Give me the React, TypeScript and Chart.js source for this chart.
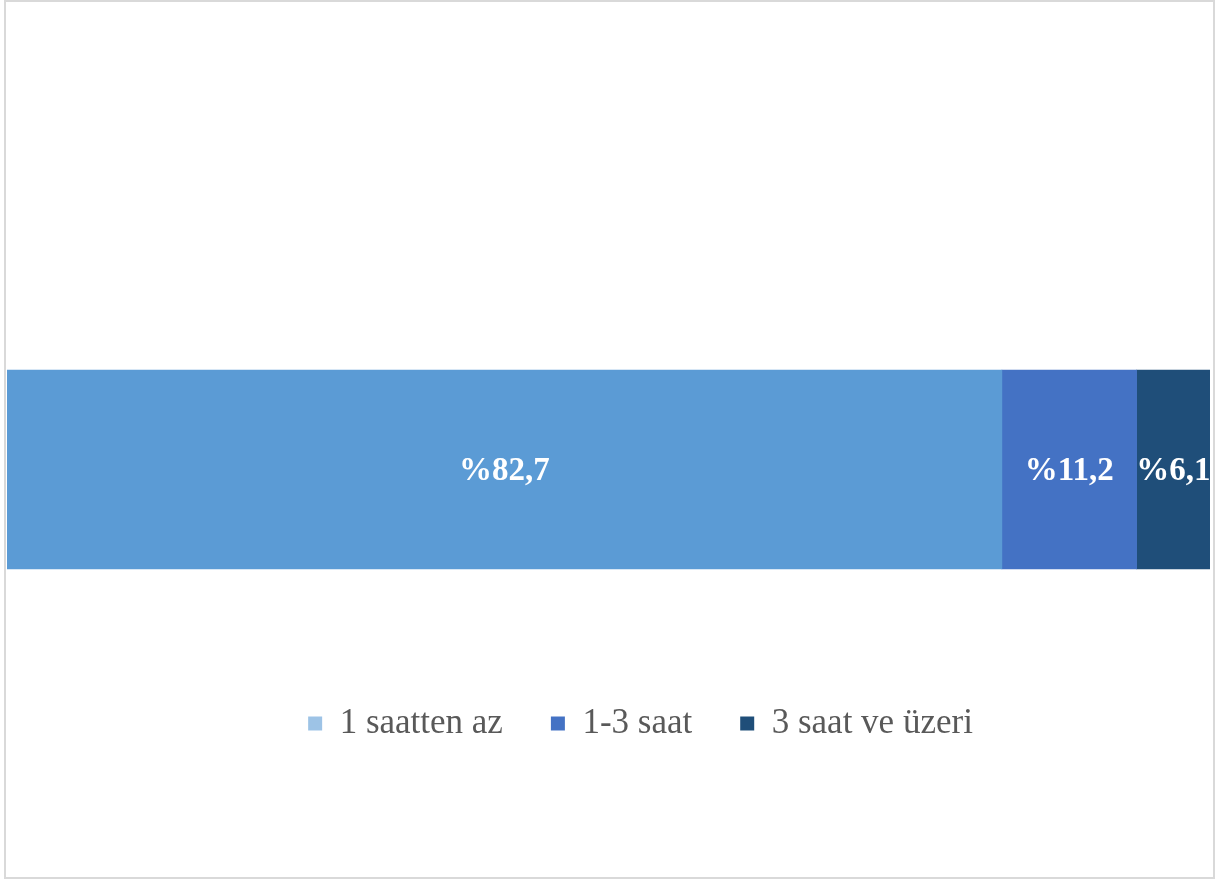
import React, { useEffect, useRef } from "react";
import { Chart, registerables } from "chart.js";

Chart.register(...registerables);

const categories = [""];
const seriesNames = ["1 saatten az", "1-3 saat", "3 saat ve üzeri"];
const seriesValues = [82.7, 11.2, 6.1];
const valueLabels = ["%82,7", "%11,2", "%6,1"];
const barColors = ["#5B9BD5", "#4472C4", "#1F4E79"];
const legendColors = ["#9DC3E6", "#4472C4", "#1F4E79"];

const FONT = "'Liberation Serif', 'DejaVu Serif', serif";

const valueLabelPlugin = {
  id: "valueLabels",
  afterDatasetsDraw(chart: any) {
    const ctx = chart.ctx;
    ctx.save();
    ctx.fillStyle = "#FFFFFF";
    ctx.font = `bold 33px ${FONT}`;
    ctx.textAlign = "center";
    ctx.textBaseline = "middle";
    chart.data.datasets.forEach((_ds: any, i: number) => {
      const meta = chart.getDatasetMeta(i);
      meta.data.forEach((el: any) => {
        const props = el.getProps(["x", "y", "base"], true);
        const cx = (props.x + props.base) / 2;
        ctx.fillText(valueLabels[i], cx, props.y + 2);
      });
    });
    ctx.restore();
  },
};

const legendShiftPlugin = {
  id: "legendShift",
  afterLayout(chart: any) {
    if (chart.legend) {
      chart.legend.left += 32;
      chart.legend.right += 32;
    }
  },
};

export default function App() {
  const canvasRef = useRef<HTMLCanvasElement | null>(null);

  useEffect(() => {
    const canvas = canvasRef.current;
    if (!canvas) return;
    const chart = new Chart(canvas, {
      type: "bar",
      data: {
        labels: categories,
        datasets: seriesNames.map((name, i) => ({
          label: name,
          data: [seriesValues[i]],
          backgroundColor: barColors[i],
          borderWidth: 0,
          barThickness: 199,
        })),
      },
      options: {
        indexAxis: "y",
        responsive: false,
        animation: false,
        maintainAspectRatio: false,
        layout: { padding: { top: 281, bottom: 129, left: 7, right: 8 } },
        scales: {
          x: { stacked: true, min: 0, max: 100, display: false, grid: { display: false } },
          y: { stacked: true, display: false, grid: { display: false } },
        },
        plugins: {
          tooltip: { enabled: false },
          legend: {
            position: "bottom",
            align: "center",
            labels: {
              boxWidth: 14,
              boxHeight: 14,
              padding: 48,
              color: "#595959",
              font: { family: FONT, size: 35 },
              generateLabels: (c: any) =>
                c.data.datasets.map((ds: any, i: number) => ({
                  text: ds.label,
                  fillStyle: legendColors[i],
                  strokeStyle: legendColors[i],
                  lineWidth: 0,
                  hidden: false,
                  datasetIndex: i,
                  fontColor: "#595959",
                })),
            },
          },
        },
      },
      plugins: [valueLabelPlugin, legendShiftPlugin],
    });
    return () => chart.destroy();
  }, []);

  return (
    <div style={{ position: "absolute", left: 0, top: 0, width: 1218, height: 880, background: "#FFFFFF" }}>
      <div
        style={{
          position: "absolute",
          left: 4,
          top: 0,
          width: 1207,
          height: 875,
          border: "2px solid #D9D9D9",
        }}
      />
      <canvas ref={canvasRef} width={1218} height={880} style={{ position: "absolute", left: 0, top: 0 }} />
    </div>
  );
}
